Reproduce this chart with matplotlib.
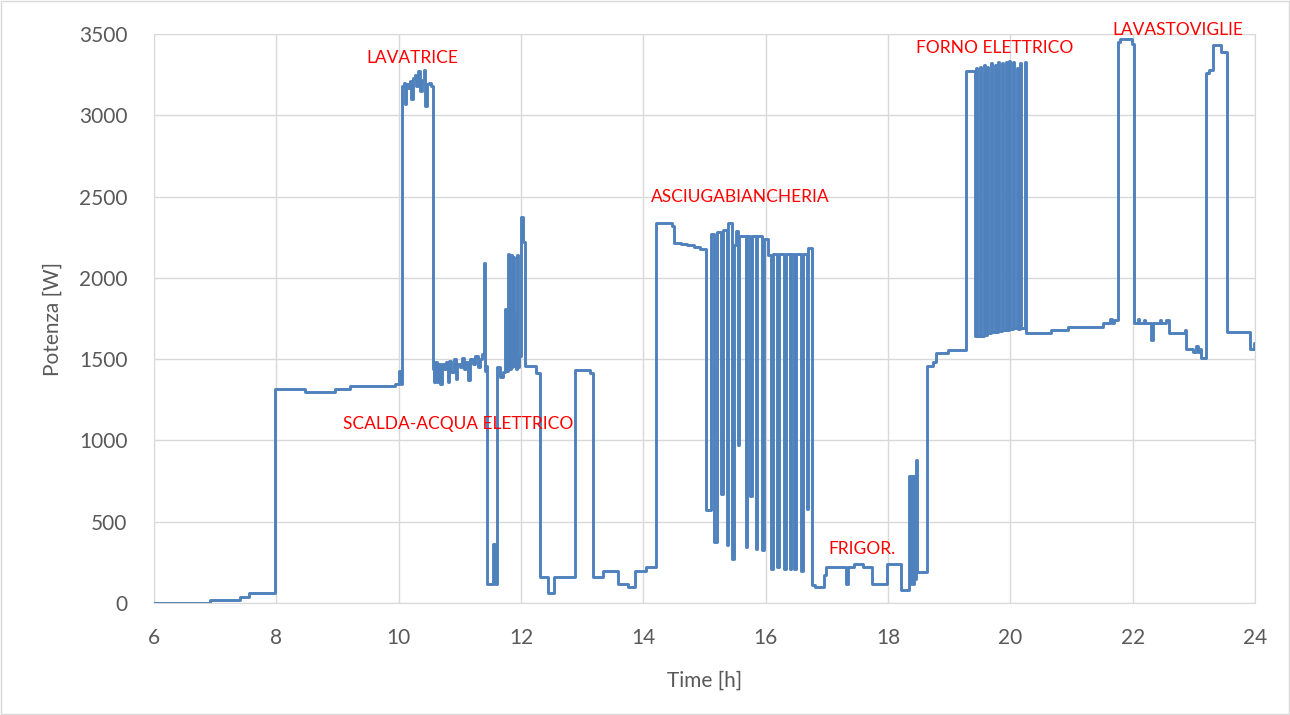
import numpy as np
import matplotlib.pyplot as plt
from matplotlib.patches import Rectangle

plt.rcParams['font.family'] = ['Lato', 'DejaVu Sans']

# data: time [h] and power [W], step-wise
morning_t = [6.00, 6.92, 7.40, 7.55, 7.98, 8.47, 8.96, 9.20, 9.94, 10.00, 10.03]
morning_w = [0, 20, 35, 60, 1315, 1300, 1316, 1335, 1350, 1425, 1350]

lavatrice_t = [10.05, 10.08, 10.10, 10.12, 10.15, 10.18, 10.20, 10.23, 10.26,
               10.29, 10.32, 10.35, 10.38, 10.41, 10.43, 10.46, 10.50, 10.53]
lavatrice_w = [3180, 3200, 3070, 3190, 3170, 3210, 3100, 3230, 3250,
               3180, 3270, 3150, 3220, 3280, 3060, 3190, 3200, 3180]

mid_t = [10.56, 10.58, 10.60, 10.63, 10.65, 10.68, 10.71, 10.74, 10.77, 10.80,
         10.83, 10.86, 10.90, 10.93, 10.96, 11.00, 11.04, 11.07, 11.10, 11.14,
         11.17, 11.21, 11.25, 11.29, 11.33, 11.37, 11.39, 11.41, 11.43]
mid_w = [1440, 1360, 1480, 1360, 1470, 1350, 1470, 1440, 1480, 1360,
         1490, 1420, 1500, 1380, 1470, 1450, 1510, 1440, 1480, 1370,
         1500, 1470, 1520, 1450, 1500, 1530, 2090, 1430, 1460]

scalda_t = [11.45, 11.545, 11.57, 11.60, 11.65, 11.70, 11.735, 11.76, 11.79, 11.81,
            11.83, 11.85, 11.86, 11.88, 11.89, 11.91, 11.93, 11.95, 11.97, 12.00,
            12.03, 12.07, 12.24, 12.31, 12.44, 12.54, 12.88, 13.12, 13.18, 13.34,
            13.59, 13.75, 13.86, 14.04]
scalda_w = [120, 365, 120, 1450, 1390, 1420, 1810, 1430, 2150, 1440,
            2140, 1450, 2130, 1460, 1780, 1440, 2140, 1450, 1520, 2375,
            2220, 1460, 1415, 160, 60, 160, 1435, 1415, 160, 200,
            120, 100, 200, 220]

asciuga_t = [14.21, 14.46, 14.50, 14.62, 14.72, 14.82, 14.92,
             15.03, 15.10, 15.15, 15.205, 15.265, 15.30, 15.37, 15.385, 15.456, 15.48,
             15.52, 15.55, 15.57, 15.67, 15.695, 15.74, 15.78, 15.84, 15.86, 15.94,
             15.97, 16.03, 16.09, 16.12, 16.18, 16.22, 16.30, 16.34, 16.39, 16.42,
             16.46, 16.50, 16.58, 16.61, 16.675, 16.69, 16.76, 16.80, 16.96, 16.99]
asciuga_w = [2335, 2320, 2215, 2210, 2200, 2190, 2175,
             570, 2270, 375, 2280, 670, 2295, 355, 2340, 270, 2200,
             2290, 970, 2260, 345, 2255, 660, 2255, 335, 2255, 325,
             2240, 2140, 210, 2145, 220, 2145, 210, 2145, 210, 2145,
             210, 2145, 200, 2145, 580, 2185, 110, 100, 170, 222]

frigo_t = [17.32, 17.35, 17.45, 17.59, 17.74, 17.98, 18.22, 18.34, 18.36, 18.38,
           18.40, 18.42, 18.44, 18.45, 18.47, 18.63, 18.73, 18.78, 18.98]
frigo_w = [120, 222, 242, 222, 120, 242, 82, 780, 120, 780,
           120, 780, 150, 880, 191, 1460, 1480, 1535, 1555]

forno_t = [19.27, 19.415, 19.445, 19.46, 19.505, 19.52, 19.565, 19.58, 19.625, 19.64,
           19.685, 19.70, 19.745, 19.76, 19.805, 19.82, 19.865, 19.88, 19.925, 19.94,
           19.985, 20.00, 20.045, 20.06, 20.105, 20.12, 20.165, 20.18, 20.235]
forno_w = [3270, 1640, 3290, 1640, 3300, 1645, 3310, 1650, 3300, 1660,
           3320, 1665, 3310, 1670, 3325, 1675, 3320, 1680, 3330, 1680,
           3335, 1685, 3330, 1690, 3290, 1685, 3320, 1690, 3330]

evening_t = [20.26, 20.67, 20.94, 21.51, 21.63, 21.66, 21.70, 21.76, 21.80, 21.99,
             22.02, 22.09, 22.11, 22.18, 22.20, 22.30, 22.33, 22.45, 22.47, 22.55,
             22.60, 22.85, 22.87, 22.98, 23.03, 23.06, 23.09, 23.12, 23.20, 23.25,
             23.31, 23.45, 23.54, 23.91, 23.99, 24.00]
evening_w = [1660, 1680, 1700, 1720, 1750, 1720, 1740, 3450, 3470, 3440,
             1720, 1745, 1720, 1740, 1720, 1620, 1725, 1740, 1720, 1740,
             1660, 1680, 1565, 1545, 1580, 1545, 1560, 1505, 3260, 3280,
             3430, 3390, 1665, 1565, 1600, 1600]

labels = ['LAVATRICE', 'SCALDA-ACQUA ELETTRICO', 'ASCIUGABIANCHERIA', 'FRIGOR.',
          'FORNO ELETTRICO', 'LAVASTOVIGLIE']
label_x = [10.23, 10.97, 15.59, 17.57, 19.74, 22.73]
label_y = [3352, 1100, 2497, 330, 3413, 3524]

t = np.concatenate([morning_t, lavatrice_t, mid_t, scalda_t, asciuga_t,
                    frigo_t, forno_t, evening_t])
w = np.concatenate([morning_w, lavatrice_w, mid_w, scalda_w, asciuga_w,
                    frigo_w, forno_w, evening_w])

fig = plt.figure(figsize=(12.9, 7.15), dpi=100)
ax = fig.add_axes([0.1194, 0.1566, 0.8535, 0.7958])

ax.step(t, w, where='post', color='#4f81bd', lw=2.1, zorder=3)

for name, x, y in zip(labels, label_x, label_y):
    ax.text(x, y, name, color='#ff0000', fontsize=12.5, ha='center', va='center',
            clip_on=False, zorder=4)

ax.set_xlim(6, 24)
ax.set_ylim(0, 3500)
ax.set_xticks(np.arange(6, 25, 2))
ax.set_yticks(np.arange(0, 3501, 500))
ax.grid(True, color='#d9d9d9', lw=1.0)
ax.set_axisbelow(True)
for s in ax.spines.values():
    s.set_color('#d9d9d9')
ax.tick_params(length=0, labelsize=15, labelcolor='#595959')
ax.tick_params(axis='y', pad=19)
ax.tick_params(axis='x', pad=18)
ax.set_xlabel('Time [h]', fontsize=15, color='#595959', labelpad=16)
ax.set_ylabel('Potenza [W]', fontsize=15, color='#595959', labelpad=12)

fig.patches.append(Rectangle((0.001, 0.002), 0.998, 0.996, transform=fig.transFigure,
                             fill=False, edgecolor='#d9d9d9', lw=1))

fig.savefig('out.png', dpi=100)
